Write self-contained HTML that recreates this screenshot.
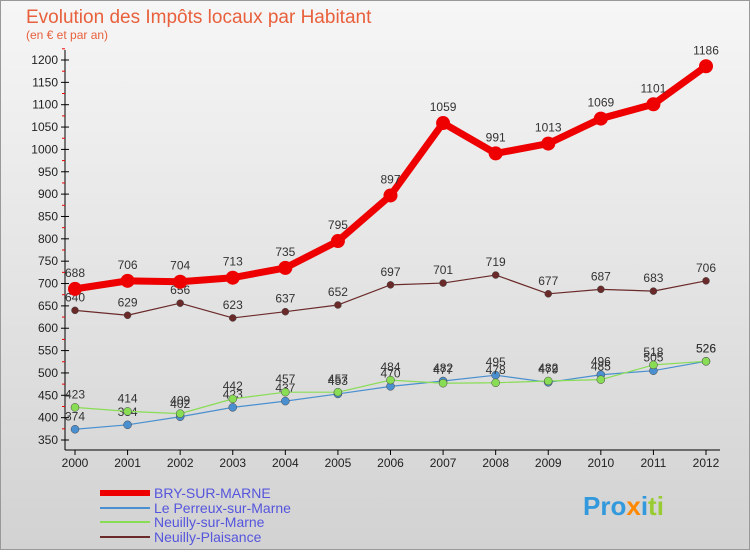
<!DOCTYPE html>
<html><head><meta charset="utf-8"><style>
body{margin:0;width:750px;height:550px;overflow:hidden;font-family:"Liberation Sans",sans-serif}
</style></head><body>
<svg id="c" width="750" height="550" xmlns="http://www.w3.org/2000/svg">
<defs><linearGradient id="bg" x1="0" y1="0" x2="0" y2="1"><stop offset="0" stop-color="#f6f6f6"/><stop offset="1" stop-color="#d2d2d2"/></linearGradient></defs>
<rect x="0.5" y="0.5" width="749" height="549" fill="url(#bg)" stroke="#999"/>
<text x="26" y="23" font-size="19" fill="#e8603c">Evolution des Impôts locaux par Habitant</text>
<text x="26" y="39" font-size="12" fill="#e8603c">(en € et par an)</text>
<g id="axes"></g><g id="series"></g>
<g>
<line x1="100" y1="493" x2="150" y2="493" stroke="#ee0000" stroke-width="6"/>
<text x="154" y="498" font-size="14" fill="#5555dd">BRY-SUR-MARNE</text>
<line x1="100" y1="508" x2="150" y2="508" stroke="#4a90d0" stroke-width="2"/>
<text x="154" y="513" font-size="14" fill="#5555dd">Le Perreux-sur-Marne</text>
<line x1="100" y1="522" x2="150" y2="522" stroke="#88dd55" stroke-width="2"/>
<text x="154" y="527" font-size="14" fill="#5555dd">Neuilly-sur-Marne</text>
<line x1="100" y1="537" x2="150" y2="537" stroke="#6b2a2a" stroke-width="2"/>
<text x="154" y="542" font-size="14" fill="#5555dd">Neuilly-Plaisance</text>
</g>
<text x="583" y="515" font-size="26" font-weight="bold"><tspan fill="#3399dd">Pro</tspan><tspan fill="#ff8800">x</tspan><tspan fill="#3399dd">i</tspan><tspan fill="#99cc33">ti</tspan></text>
</svg>
<script>
const years=[2000,2001,2002,2003,2004,2005,2006,2007,2008,2009,2010,2011,2012];
const bry=[688,706,704,713,735,795,897,1059,991,1013,1069,1101,1186];
const perreux=[374,384,402,423,437,453,470,482,495,479,496,505,526];
const neuillyMarne=[423,414,409,442,457,457,484,477,478,482,485,518,526];
const plaisance=[640,629,656,623,637,652,697,701,719,677,687,683,706];
const yTicks=[350,400,450,500,550,600,650,700,750,800,850,900,950,1000,1050,1100,1150,1200];
const NS="http://www.w3.org/2000/svg";
const x=i=>75+i*(706-75)/12;
const y=v=>440-(v-350)*(380/850);
function el(t,a,p){const e=document.createElementNS(NS,t);for(const k in a)e.setAttribute(k,a[k]);p.appendChild(e);return e;}
const ax=document.getElementById('axes');
const yl=el('line',{x1:65,y1:50,x2:65,y2:450,stroke:'#000'},ax);


const xl=el('line',{x1:65,y1:450,x2:720,y2:450,stroke:'#000'},ax);


yTicks.forEach(v=>{
 el('line',{x1:61,y1:y(v),x2:69,y2:y(v),stroke:'#000'},ax);
 el('line',{x1:62,y1:y(v+25),x2:65,y2:y(v+25),stroke:'#e00'},ax);
 const t=el('text',{x:58,y:y(v)+4,'font-size':12,'text-anchor':'end',fill:'#222'},ax);t.textContent=v;
 
 
});
years.forEach((yr,i)=>{
 el('line',{x1:x(i),y1:450,x2:x(i),y2:455,stroke:'#000'},ax);
 const t=el('text',{x:x(i),y:467,'font-size':12,'text-anchor':'middle',fill:'#222'},ax);t.textContent=yr;
 
 
});
const sg=document.getElementById('series');
function series(d,col,w,r,name){
 const g=el('g',{},sg);
 
 
 el('polyline',{points:d.map((v,i)=>x(i)+','+y(v)).join(' '),fill:'none',stroke:col,'stroke-width':w,'stroke-linejoin':'round'},g);
 d.forEach((v,i)=>{
  const c=el('circle',{cx:x(i),cy:y(v),r:r,fill:col,stroke:w>3?'none':'#444','stroke-width':0.5},g);
  
  
  const t=el('text',{x:x(i),y:y(v)-(w>3?12:9),'font-size':12,'text-anchor':'middle',fill:'#333'},g);t.textContent=v;
  
  
 });
}
series(plaisance,'#6b2a2a',1.2,3.5,'neuilly-plaisance-series');
series(perreux,'#4a90d0',1.2,4,'perreux-series');
series(neuillyMarne,'#88dd55',1.2,4,'neuilly-marne-series');
series(bry,'#ee0000',7,7,'bry-series');
</script>
</body></html>
